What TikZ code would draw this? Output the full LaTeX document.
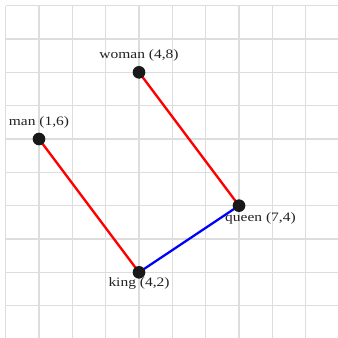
\documentclass[tikz,border=0pt]{standalone}
\usepackage{fontspec}
\setmainfont{Liberation Serif}[FakeStretch=1.2]
\usetikzlibrary{backgrounds}
\definecolor{gridgray}{HTML}{DDDDDD}
\definecolor{txt}{HTML}{222222}
\begin{document}
\begin{tikzpicture}[x=1cm,y=1cm,
  gridline/.style={draw=gridgray, line width=1pt},
  dot/.style={circle, fill=black!90, inner sep=0pt, minimum size=0.38cm},
  lbl/.style={text=txt, font=\fontsize{11}{13}\selectfont, inner sep=0pt},
  redline/.style={draw=red, line width=2pt},
  blueline/.style={draw=blue, line width=2pt}]
\useasboundingbox (-0.17,0.03) rectangle (9.94,10.17);
\clip (-0.17,0.03) rectangle (9.94,10.17);
\node[dot] (man) at (1,6) {};
\node[dot] (woman) at (4,8) {};
\node[dot] (king) at (4,2) {};
\node[dot] (queen) at (7,4) {};
\begin{scope}[on background layer]
\fill[white] (-0.17,0.03) rectangle (9.94,10.17);
\draw[gridline] (0,0) grid (10,10);
\draw[redline] (man.center) -- (king.center);
\draw[redline] (woman.center) -- (queen.center);
\draw[blueline] (king.center) -- (queen.center);
\end{scope}
\node[lbl, anchor=base] (manlbl) at (1,6.40) {man (1,6)};
\node[lbl, anchor=base] (womanlbl) at (4,8.42) {woman (4,8)};
\node[lbl, anchor=base] (kinglbl) at (4,1.57) {king (4,2)};
\node[lbl, anchor=base west] (queenlbl) at (6.58,3.52) {queen (7,4)};
\end{tikzpicture}
\end{document}
